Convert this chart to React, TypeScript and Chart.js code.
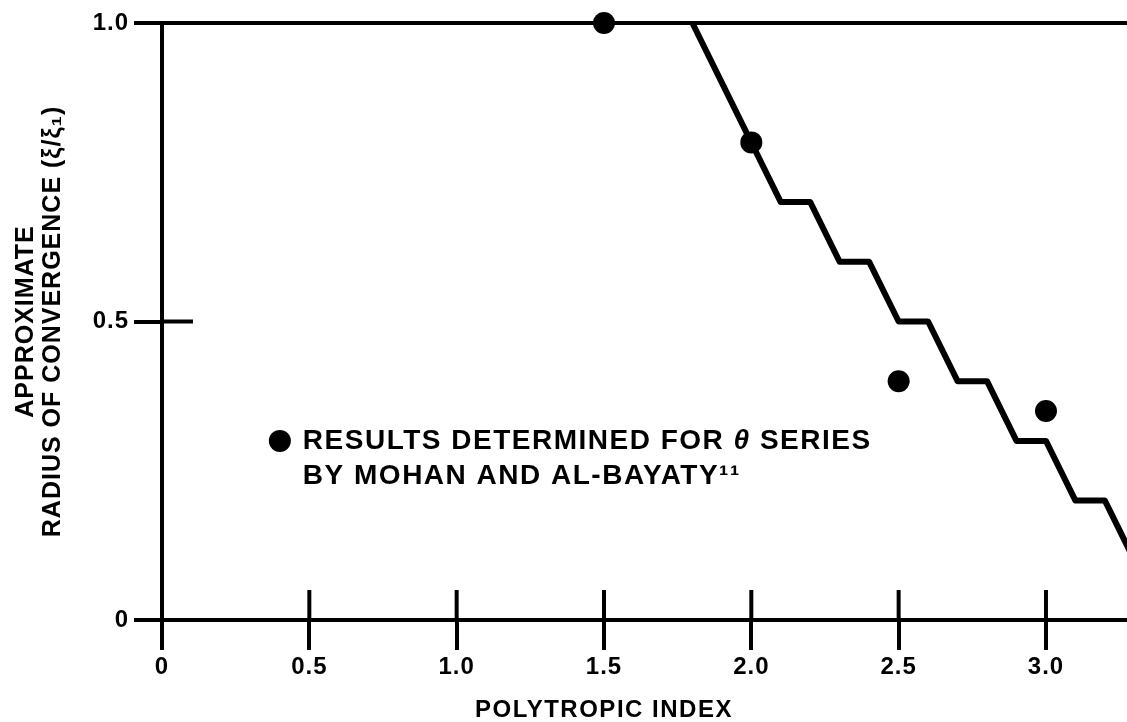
import { useEffect, useRef } from "react";
import { Chart, registerables } from "chart.js";

Chart.register(...registerables);

// ---- data ----
const xTickValues = [0, 0.5, 1.0, 1.5, 2.0, 2.5, 3.0];
const xTickLabels = ["0", "0.5", "1.0", "1.5", "2.0", "2.5", "3.0"];
const yTickValues = [0, 0.5, 1.0];
const yTickLabels = ["0", "0.5", "1.0"];
const xMax = 3.275;

// staircase curve (approximate radius of convergence)
const stepX = [1.8, 2.1, 2.2, 2.3, 2.4, 2.5, 2.6, 2.7, 2.8, 2.9, 3.0, 3.1, 3.2, 3.3];
const stepY = [1.0, 0.7, 0.7, 0.6, 0.6, 0.5, 0.5, 0.4, 0.4, 0.3, 0.3, 0.2, 0.2, 0.1];

// results determined for theta series (Mohan and Al-Bayaty)
const pointX = [1.5, 2.0, 2.5, 3.0];
const pointY = [1.0, 0.8, 0.4, 0.35];

const xTitle = "POLYTROPIC INDEX";
const yTitle = ["APPROXIMATE", "RADIUS OF CONVERGENCE (ξ/ξ₁)"];
const legendLine1 = ["RESULTS DETERMINED FOR ", "θ", " SERIES"];
const legendLine2 = "BY MOHAN AND AL-BAYATY¹¹";
const legendAnchor = { x: 0.4, y: 0.3 };
const titleCenterValue = 1.5;

const FONT = "'Liberation Sans', Arial, Helvetica, sans-serif";
const INK = "#000";
const W = 1127;
const H = 722;

const spacingPlugin = {
  id: "spacing",
  beforeDraw(chart: any) {
    (chart.ctx as any).letterSpacing = "1px";
  },
};

const decorPlugin = {
  id: "decor",
  beforeDatasetsDraw(chart: any) {
    const { ctx, chartArea, scales } = chart;
    const x = scales.x;
    const y = scales.y;
    ctx.save();
    ctx.strokeStyle = INK;
    ctx.lineWidth = 4;
    ctx.lineCap = "butt";
    // top frame line at y = 1.0
    const yTop = y.getPixelForValue(yTickValues[yTickValues.length - 1]);
    ctx.beginPath();
    ctx.moveTo(chartArea.left, yTop);
    ctx.lineTo(chartArea.right, yTop);
    ctx.stroke();
    // inner halves of the x ticks
    const y0 = y.getPixelForValue(0);
    xTickValues.forEach((v) => {
      if (v === 0) return;
      const px = x.getPixelForValue(v);
      ctx.beginPath();
      ctx.moveTo(px, y0);
      ctx.lineTo(px, y0 - 30);
      ctx.stroke();
    });
    // inner half of the middle y tick
    const x0 = x.getPixelForValue(0);
    yTickValues.forEach((v) => {
      if (v === 0 || v === yTickValues[yTickValues.length - 1]) return;
      const py = y.getPixelForValue(v);
      ctx.beginPath();
      ctx.moveTo(x0, py);
      ctx.lineTo(x0 + 31, py);
      ctx.stroke();
    });
    ctx.restore();
  },
  afterDraw(chart: any) {
    const { ctx, chartArea, scales } = chart;
    const x = scales.x;
    const y = scales.y;
    ctx.save();
    (ctx as any).letterSpacing = "1.5px";
    ctx.fillStyle = INK;
    // legend
    const cx = x.getPixelForValue(legendAnchor.x);
    const cy = y.getPixelForValue(legendAnchor.y);
    ctx.beginPath();
    ctx.arc(cx, cy, 11, 0, Math.PI * 2);
    ctx.fill();
    ctx.textAlign = "left";
    ctx.textBaseline = "middle";
    let tx = cx + 23;
    legendLine1.forEach((seg, i) => {
      ctx.font = (i === 1 ? "italic " : "") + `bold 28px ${FONT}`;
      ctx.fillText(seg, tx, cy);
      tx += ctx.measureText(seg).width;
    });
    ctx.font = `bold 28px ${FONT}`;
    ctx.fillText(legendLine2, cx + 23, cy + 35);
    // x-axis title, centred under the labelled range
    ctx.font = `bold 24px ${FONT}`;
    ctx.textAlign = "center";
    ctx.fillText(xTitle, x.getPixelForValue(titleCenterValue), chartArea.bottom + 90);
    ctx.restore();
  },
};

export default function App() {
  const ref = useRef<HTMLCanvasElement | null>(null);

  useEffect(() => {
    if (!ref.current) return;
    const chart = new Chart(ref.current, {
      type: "scatter",
      data: {
        datasets: [
          {
            label: "curve",
            data: stepX.map((v, i) => ({ x: v, y: stepY[i] })),
            showLine: true,
            borderColor: INK,
            borderWidth: 6,
            borderJoinStyle: "round",
            borderCapStyle: "butt",
            pointRadius: 0,
            tension: 0,
            fill: false,
          } as any,
          {
            label: "points",
            data: pointX.map((v, i) => ({ x: v, y: pointY[i] })),
            showLine: false,
            pointRadius: 11,
            pointBackgroundColor: INK,
            pointBorderWidth: 0,
            borderColor: INK,
            clip: false,
          } as any,
        ],
      },
      options: {
        animation: false,
        responsive: false,
        devicePixelRatio: 1,
        events: [],
        layout: { autoPadding: false, padding: { top: 23, left: 0, right: 0, bottom: 0 } },
        plugins: {
          legend: { display: false },
          tooltip: { enabled: false },
        },
        scales: {
          x: {
            type: "linear",
            position: "bottom",
            min: 0,
            max: xMax,
            afterBuildTicks: (s: any) => {
              s.ticks = xTickValues.map((v) => ({ value: v }));
            },
            afterFit: (s: any) => {
              s.height = 102;
            },
            ticks: {
              color: INK,
              font: { family: FONT, size: 24, weight: "bold" },
              padding: 3,
              maxRotation: 0,
              autoSkip: false,
              callback: (_v: any, i: number) => xTickLabels[i],
            },
            grid: {
              drawOnChartArea: false,
              drawTicks: true,
              tickLength: 30,
              lineWidth: 4,
              color: INK,
            },
            border: { display: true, width: 4, color: INK },
          },
          y: {
            type: "linear",
            position: "left",
            min: 0,
            max: 1,
            afterBuildTicks: (s: any) => {
              s.ticks = yTickValues.map((v) => ({ value: v }));
            },
            afterFit: (s: any) => {
              s.width = 162;
            },
            ticks: {
              color: INK,
              font: { family: FONT, size: 24, weight: "bold" },
              padding: 5,
              callback: (_v: any, i: number) => yTickLabels[i],
            },
            grid: {
              drawOnChartArea: false,
              drawTicks: true,
              tickLength: 28,
              lineWidth: 4,
              color: INK,
            },
            border: { display: true, width: 4, color: INK },
            title: {
              display: true,
              text: yTitle,
              color: INK,
              font: { family: FONT, size: 25, weight: "bold", lineHeight: 1.08 },
              padding: { top: 13, bottom: 0 },
            },
          },
        },
      } as any,
      plugins: [spacingPlugin, decorPlugin],
    });
    return () => chart.destroy();
  }, []);

  return (
    <div
      style={{
        position: "fixed",
        left: 0,
        top: 0,
        width: W,
        height: H,
        background: "#fff",
      }}
    >
      <canvas ref={ref} width={W} height={H} style={{ display: "block" }} />
    </div>
  );
}
